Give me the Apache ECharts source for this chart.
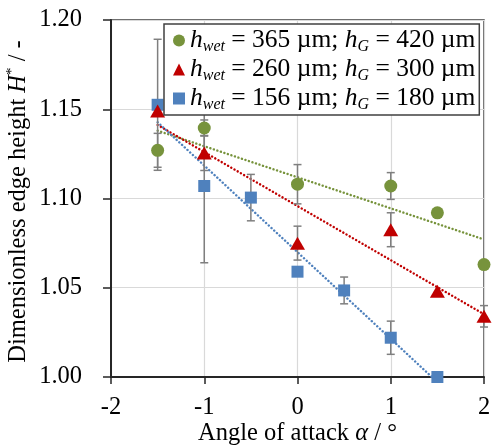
<!DOCTYPE html>
<html><head><meta charset="utf-8">
<script src="https://cdn.jsdelivr.net/npm/echarts@6/dist/echarts.min.js"></script>
<style>html,body{margin:0;padding:0;background:#fff}#c{width:496px;height:445px}</style>
</head><body><div id="c"></div>
<script>
// ---- data ----
const xTicks = [-2, -1, 0, 1, 2];
const yTicks = [1.00, 1.05, 1.10, 1.15, 1.20];

const xGreen = [-1.5, -1, 0, 1, 1.5, 2];
const yGreen = [1.127, 1.1395, 1.108, 1.107, 1.092, 1.063];
const eGreen = [0.0095, 0.0045, 0.011, 0.0075, 0, 0];

const xRed = [-1.5, -1, 0, 1, 1.5, 2];
const yRed = [1.149, 1.1255, 1.075, 1.0825, 1.048, 1.034];
const eRed = [0, 0.0098, 0.0095, 0.0095, 0, 0.006];

const xBlue = [-1.5, -1, -0.5, 0, 0.5, 1, 1.5];
const yBlue = [1.1525, 1.107, 1.1005, 1.059, 1.0485, 1.022, 1.000];
const eBlue = [0.0367, 0.043, 0.013, 0.002, 0.0075, 0.0093, 0];

const names = ['green', 'red', 'blue'];
const labels = {
  green: '{i|h}{s|wet} = 365 µm; {i|h}{s|G} = 420 µm',
  red:   '{i|h}{s|wet} = 260 µm; {i|h}{s|G} = 300 µm',
  blue:  '{i|h}{s|wet} = 156 µm; {i|h}{s|G} = 180 µm'
};
const colors = { green: '#77933C', red: '#C00000', blue: '#4F81BD' };

// ---- helpers ----
function pts(xs, ys) { return xs.map((x, i) => [x, ys[i]]); }
function errs(xs, ys, es) { return xs.map((x, i) => [x, ys[i], es[i]]); }
function fit(xs, ys) {
  const n = xs.length;
  const mx = xs.reduce((a, b) => a + b, 0) / n;
  const my = ys.reduce((a, b) => a + b, 0) / n;
  let sxy = 0, sxx = 0;
  for (let i = 0; i < n; i++) { sxy += (xs[i] - mx) * (ys[i] - my); sxx += (xs[i] - mx) ** 2; }
  const m = sxy / sxx, b = my - m * mx;
  const x0 = Math.min(...xs), x1 = Math.max(...xs);
  return [[x0, m * x0 + b], [x1, m * x1 + b]];
}
function errSeries(data) {
  return {
    type: 'custom', z: 3, silent: true,
    renderItem: function (params, api) {
      const e = api.value(2);
      if (!e) return null;
      const x = api.value(0), y = api.value(1);
      const t = api.coord([x, y + e]), b = api.coord([x, y - e]);
      const st = { stroke: '#7F7F7F', lineWidth: 1.5 };
      const w = 4;
      return { type: 'group', children: [
        { type: 'line', shape: { x1: t[0], y1: t[1], x2: b[0], y2: b[1] }, style: st },
        { type: 'line', shape: { x1: t[0] - w, y1: t[1], x2: t[0] + w, y2: t[1] }, style: st },
        { type: 'line', shape: { x1: b[0] - w, y1: b[1], x2: b[0] + w, y2: b[1] }, style: st }
      ]};
    },
    data: data
  };
}
function trend(data, color) {
  return { type: 'line', data: data, symbol: 'none', z: 2, silent: true,
    lineStyle: { color: color, width: 2.4, type: [0.1, 3.6], cap: 'round' } };
}

const FONT = 'Liberation Serif';
const FS = 24.5;
const chart = echarts.init(document.getElementById('c'));
chart.setOption({
  animation: false,
  backgroundColor: '#fff',
  grid: { left: 111, right: 12, top: 20, bottom: 68, outerBoundsMode: 'none', containLabel: false,
    show: true, borderColor: '#404040', borderWidth: 1.5, backgroundColor: 'transparent' },
  xAxis: {
    type: 'value', min: xTicks[0], max: xTicks[xTicks.length - 1], interval: 1,
    name: 'Angle of attack {i|α} / °', nameLocation: 'middle', nameGap: 44, nameMoveOverlap: false,
    nameTextStyle: { fontFamily: FONT, fontSize: FS, color: '#000', lineHeight: 26,
      rich: { i: { fontFamily: FONT, fontSize: FS, fontStyle: 'italic', color: '#000', lineHeight: 26 } } },
    axisLine: { show: true, onZero: false, lineStyle: { color: '#262626', width: 2 } },
    axisTick: { show: true, length: 7, lineStyle: { color: '#262626', width: 1.5 } },
    axisLabel: { fontFamily: FONT, fontSize: FS, color: '#000', margin: 18 },
    splitLine: { show: true, lineStyle: { color: '#D9D9D9', width: 1.2 } }
  },
  yAxis: {
    type: 'value', min: yTicks[0], max: yTicks[yTicks.length - 1], interval: 0.05,
    name: 'Dimensionless edge height {i|H}{sup|*} / -', nameLocation: 'middle', nameGap: 78, nameMoveOverlap: false,
    nameTextStyle: { fontFamily: FONT, fontSize: FS, color: '#000', lineHeight: 28, padding: [0, 6, 0, 0],
      rich: {
        i: { fontFamily: FONT, fontSize: FS, fontStyle: 'italic', color: '#000', lineHeight: 28 },
        sup: { fontFamily: FONT, fontSize: 15, color: '#000', lineHeight: 12, verticalAlign: 'top' }
      } },
    axisLine: { show: true, onZero: false, lineStyle: { color: '#262626', width: 2 } },
    axisTick: { show: true, length: 8, lineStyle: { color: '#262626', width: 1.5 } },
    axisLabel: { fontFamily: FONT, fontSize: FS, color: '#000', margin: 29,
      formatter: v => v.toFixed(2) },
    splitLine: { show: true, lineStyle: { color: '#D9D9D9', width: 1.2 } }
  },
  legend: {
    orient: 'vertical', left: 164, top: 24, itemGap: 0, itemWidth: 12, itemHeight: 12,
    padding: [2, 4, 2, 9], backgroundColor: '#fff', borderColor: '#404040', borderWidth: 1.5,
    z: 10,
    data: [
      { name: 'green', icon: 'circle' },
      { name: 'red', icon: 'triangle' },
      { name: 'blue', icon: 'rect' }
    ],
    formatter: n => labels[n],
    textStyle: { fontFamily: FONT, fontSize: 25.5, color: '#000', lineHeight: 29,
      rich: {
        i: { fontFamily: FONT, fontSize: 25.5, fontStyle: 'italic', color: '#000', lineHeight: 29 },
        s: { fontFamily: FONT, fontSize: 16, fontStyle: 'italic', color: '#000', lineHeight: 13, verticalAlign: 'bottom' }
      } }
  },
  series: [
    trend(fit(xGreen, yGreen), colors.green),
    trend(fit(xRed, yRed), colors.red),
    trend(fit(xBlue, yBlue), colors.blue),
    errSeries(errs(xGreen, yGreen, eGreen)),
    errSeries(errs(xRed, yRed, eRed)),
    errSeries(errs(xBlue, yBlue, eBlue)),
    { name: 'blue', type: 'scatter', z: 4, data: pts(xBlue, yBlue), symbol: 'rect', symbolSize: 12,
      itemStyle: { color: colors.blue, opacity: 1 } },
    { name: 'red', type: 'scatter', z: 5, data: pts(xRed, yRed), symbol: 'triangle', symbolSize: [15, 13],
      itemStyle: { color: colors.red, opacity: 1 } },
    { name: 'green', type: 'scatter', z: 6, data: pts(xGreen, yGreen), symbol: 'circle', symbolSize: 13,
      itemStyle: { color: colors.green, opacity: 1 } }
  ]
});
</script></body></html>
